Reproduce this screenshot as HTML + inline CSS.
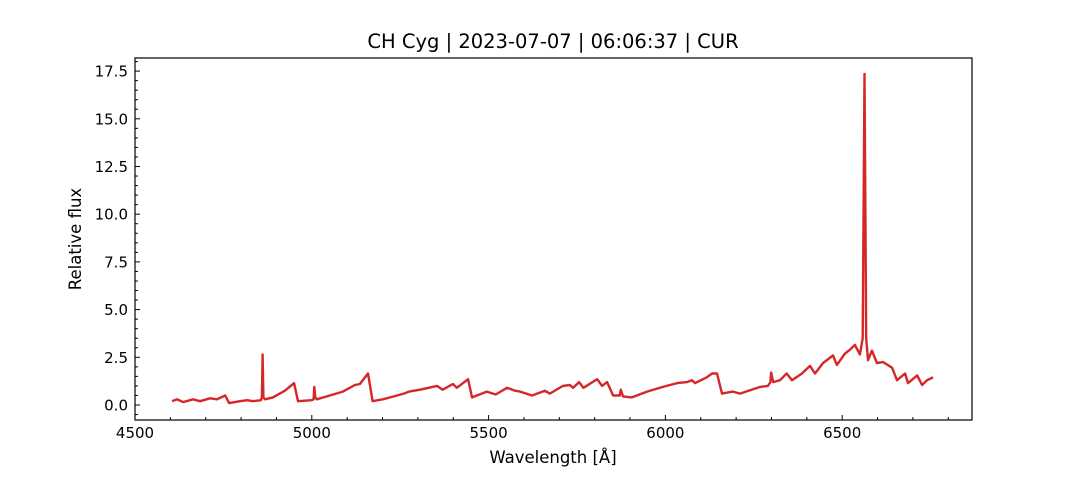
<!DOCTYPE html>
<html><head><meta charset="utf-8"><style>
body{margin:0;background:#fff;font-family:"Liberation Sans","DejaVu Sans",sans-serif}
svg text{font-family:"DejaVu Sans","Liberation Sans",sans-serif;fill:#000}
</style></head><body>
<svg id="chart" width="1080" height="480" xmlns="http://www.w3.org/2000/svg">
<rect width="1080" height="480" fill="#fff"/>
<text x="553" y="48" font-size="19.5" text-anchor="middle">CH Cyg | 2023-07-07 | 06:06:37 | CUR</text>
<g id="ticks"></g>
<path id="line" fill="none" stroke="#d62728" stroke-width="2.4" stroke-linejoin="round"/>
<rect x="135" y="58" width="837" height="362" fill="none" stroke="#000" stroke-width="1.2"/>
<text x="553" y="463" font-size="16.5" text-anchor="middle">Wavelength [Å]</text>
<text transform="translate(81,239) rotate(-90)" font-size="16.5" text-anchor="middle">Relative flux</text>
</svg>
<script>
const wavelengths=[4605,4619,4636,4664,4684,4712,4732,4755,4766,4797,4817,4834,4856,4859,4861,4863,4868,4890,4924,4950,4961,5000,5005,5007,5010,5014,5051,5088,5122,5136,5159,5172,5201,5241,5260,5275,5306,5354,5370,5399,5410,5442,5453,5495,5520,5552,5575,5589,5623,5659,5673,5710,5730,5739,5756,5768,5807,5821,5835,5852,5871,5874,5880,5905,5948,5993,6033,6061,6075,6084,6117,6132,6146,6160,6191,6211,6268,6290,6297,6299,6305,6324,6343,6358,6386,6409,6423,6446,6474,6485,6508,6522,6536,6550,6558,6563,6568,6573,6584,6598,6616,6641,6655,6678,6686,6712,6726,6740,6757];
const flux=[0.2,0.3,0.15,0.3,0.2,0.35,0.3,0.5,0.1,0.2,0.25,0.2,0.25,0.4,2.65,0.4,0.3,0.4,0.75,1.15,0.2,0.25,0.3,0.95,0.4,0.3,0.5,0.7,1.05,1.1,1.65,0.2,0.3,0.5,0.6,0.7,0.8,1.0,0.8,1.1,0.9,1.35,0.4,0.7,0.55,0.9,0.75,0.7,0.5,0.75,0.6,1.0,1.05,0.9,1.2,0.9,1.35,1.0,1.2,0.5,0.5,0.8,0.45,0.4,0.7,0.95,1.15,1.2,1.3,1.15,1.45,1.65,1.65,0.6,0.7,0.6,0.95,1.0,1.2,1.7,1.2,1.3,1.65,1.3,1.65,2.05,1.65,2.2,2.6,2.1,2.7,2.9,3.15,2.65,3.5,17.35,3.5,2.35,2.85,2.2,2.25,1.95,1.3,1.65,1.15,1.55,1.05,1.3,1.45];
const xTicks=[4500,5000,5500,6000,6500];
const yTicks=[0,2.5,5,7.5,10,12.5,15,17.5];
const X=v=>135+(v-4500)*176.8/500;
const Y=v=>405-v*19.08;
const NS="http://www.w3.org/2000/svg";
const g=document.getElementById('ticks');
function ln(x1,y1,x2,y2,name){const l=document.createElementNS(NS,'line');l.setAttribute('x1',x1);l.setAttribute('y1',y1);l.setAttribute('x2',x2);l.setAttribute('y2',y2);l.setAttribute('stroke','#000');l.setAttribute('stroke-width','1');


g.appendChild(l);}
function tx(x,y,s,anchor,name){const t=document.createElementNS(NS,'text');t.setAttribute('x',x);t.setAttribute('y',y);t.setAttribute('font-size','15');t.setAttribute('text-anchor',anchor);t.textContent=s;


g.appendChild(t);}
for(let v=4500;v<=6800;v+=100){const x=X(v);const major=v%500===0;ln(x,420,x,420-(major?5:3),major?'x-major-tick':'x-minor-tick');}
xTicks.forEach(v=>tx(X(v),438,String(v),'middle','x-tick-label'));
for(let v=-0.5;v<=18;v+=0.5){const y=Y(v);if(y<58||y>420)continue;const major=Math.abs(v/2.5-Math.round(v/2.5))<1e-6;ln(135,y,135+(major?5:3),y,major?'y-major-tick':'y-minor-tick');}
yTicks.forEach(v=>tx(128,Y(v)+5.5,v.toFixed(1),'end','y-tick-label'));
document.getElementById('line').setAttribute('d',wavelengths.map((w,i)=>(i?'L':'M')+X(w).toFixed(1)+','+Y(flux[i]).toFixed(1)).join(''));
</script>
</body></html>
